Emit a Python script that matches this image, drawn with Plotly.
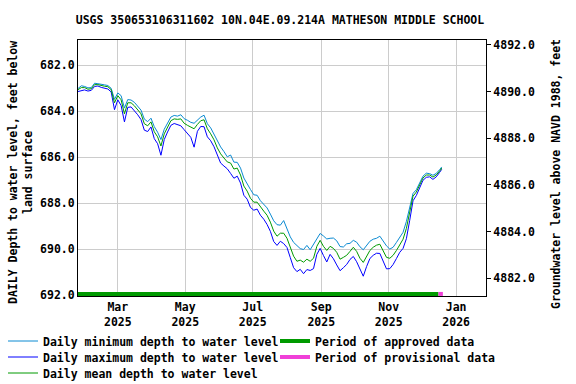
import pandas as pd
import plotly.graph_objects as go

# ---- data ----
dates = list(pd.date_range("2025-01-24", periods=110, freq="3D")) + [pd.Timestamp("2025-12-19")]

mean_depth = [
    683.07, 682.98, 682.98, 683.05, 683.03, 682.85, 682.85, 682.90, 682.92, 682.94,
    683.07, 683.64, 683.33, 683.51, 684.12, 683.64, 683.64, 683.77, 683.94, 684.12,
    684.55, 684.64, 684.47, 684.90, 685.12, 685.52, 684.99, 684.69, 684.42, 684.34,
    684.36, 684.34, 684.53, 684.62, 684.69, 684.77, 684.58, 684.42, 684.38, 684.77,
    684.99, 685.25, 685.60, 685.86, 686.04, 686.21, 686.26, 686.52, 686.48, 686.78,
    687.26, 687.48, 687.79, 687.96, 687.96, 688.18, 688.35, 688.53, 688.83, 689.22,
    689.44, 689.31, 689.31, 689.53, 689.92, 690.31, 690.53, 690.48, 690.57, 690.44,
    690.53, 690.40, 689.88, 689.62, 689.88, 690.06, 689.88, 689.97, 690.14, 690.44,
    690.36, 690.27, 690.10, 689.92, 690.10, 690.40, 690.58, 690.31, 690.06, 689.92,
    689.83, 689.79, 690.10, 690.36, 690.40, 690.27, 690.06, 689.79, 689.57, 689.10,
    688.35, 687.70, 687.52, 687.22, 686.91, 686.78, 686.78, 686.87, 686.78, 686.61,
    686.48,
]

min_depth = [
    683.02, 682.90, 682.93, 682.99, 682.98, 682.79, 682.81, 682.85, 682.86, 682.89,
    683.01, 683.49, 683.21, 683.33, 683.87, 683.50, 683.52, 683.62, 683.80, 683.96,
    684.35, 684.46, 684.31, 684.68, 684.92, 685.24, 684.79, 684.51, 684.26, 684.19,
    684.22, 684.16, 684.33, 684.40, 684.49, 684.53, 684.40, 684.26, 684.18, 684.55,
    684.73, 685.01, 685.30, 685.56, 685.76, 685.99, 685.91, 686.22, 686.23, 686.48,
    686.91, 687.18, 687.41, 687.64, 687.66, 687.90, 688.05, 688.21, 688.48, 688.77,
    688.94, 688.96, 688.76, 689.13, 689.47, 689.71, 689.83, 689.98, 690.02, 689.84,
    690.03, 689.80, 689.53, 689.32, 689.43, 689.56, 689.53, 689.52, 689.64, 689.89,
    689.91, 689.77, 689.75, 689.62, 689.70, 689.90, 690.03, 689.86, 689.66, 689.57,
    689.53, 689.44, 689.65, 689.86, 690.00, 689.92, 689.71, 689.49, 689.27, 688.80,
    688.20, 687.58, 687.42, 687.12, 686.83, 686.70, 686.72, 686.79, 686.71, 686.55,
    686.43,
]

max_depth = [
    683.15, 683.13, 683.08, 683.13, 683.10, 682.93, 682.91, 682.97, 683.00, 683.04,
    683.17, 683.94, 683.51, 683.76, 684.47, 683.84, 683.82, 683.97, 684.16, 684.37,
    684.83, 684.89, 684.69, 685.20, 685.42, 685.92, 685.24, 684.91, 684.62, 684.54,
    684.58, 684.64, 684.81, 684.97, 685.14, 685.57, 684.88, 684.67, 684.68, 685.12,
    685.29, 685.55, 685.95, 686.26, 686.39, 686.51, 686.71, 686.92, 686.83, 687.13,
    687.66, 687.83, 688.19, 688.31, 688.26, 688.53, 688.70, 688.93, 689.23, 689.67,
    689.84, 689.66, 689.76, 689.93, 690.37, 690.81, 690.98, 690.88, 691.07, 690.89,
    690.93, 690.85, 690.23, 689.97, 690.28, 690.56, 690.23, 690.42, 690.69, 690.94,
    690.81, 690.67, 690.45, 690.32, 690.55, 690.90, 691.18, 690.76, 690.41, 690.27,
    690.18, 690.19, 690.55, 690.86, 690.85, 690.67, 690.41, 690.14, 689.97, 689.55,
    688.75, 687.90, 687.67, 687.34, 687.01, 686.88, 686.86, 686.97, 686.86, 686.67,
    686.53,
]

approved_period = ["2025-01-24", "2025-12-16"]
provisional_period = ["2025-12-16", "2025-12-20"]
period_bar_depth = 691.95

x_tick_vals = ["2025-03-01", "2025-05-01", "2025-07-01", "2025-09-01", "2025-11-01", "2026-01-01"]
x_tick_text = ["Mar<br>2025", "May<br>2025", "Jul<br>2025", "Sep<br>2025", "Nov<br>2025", "Jan<br>2026"]
left_ticks = [682, 684, 686, 688, 690, 692]
right_ticks = [4882, 4884, 4886, 4888, 4890, 4892]

FONT = "DejaVu Sans Mono"
FS = 11.5
C_MIN = "#0a8ad2"
C_MAX = "#0000ff"
C_MEAN = "#009a00"
C_APP = "#009a00"
C_PROV = "#f040d8"

fig = go.Figure()
fig.add_trace(go.Scatter(x=dates, y=min_depth, mode="lines", name="<b>Daily minimum depth to water level</b>",
                         line=dict(color=C_MIN, width=1), legend="legend"))
fig.add_trace(go.Scatter(x=dates, y=max_depth, mode="lines", name="<b>Daily maximum depth to water level</b>",
                         line=dict(color=C_MAX, width=1), legend="legend2"))
fig.add_trace(go.Scatter(x=dates, y=mean_depth, mode="lines", name="<b>Daily mean depth to water level</b>",
                         line=dict(color=C_MEAN, width=1), legend="legend3"))
fig.add_trace(go.Scatter(x=approved_period, y=[period_bar_depth] * 2, mode="lines",
                         name="<b>Period of approved data</b>", line=dict(color=C_APP, width=4), legend="legend4"))
fig.add_trace(go.Scatter(x=provisional_period, y=[period_bar_depth] * 2, mode="lines",
                         name="<b>Period of provisional data</b>", line=dict(color=C_PROV, width=4), legend="legend5"))
# anchor for right axis
fig.add_trace(go.Scatter(x=[dates[0]], y=[4886], yaxis="y2", mode="markers", marker=dict(opacity=0),
                         showlegend=False, hoverinfo="skip"))


def leg(px_left, py_center):
    return dict(x=px_left / 576, y=1 - py_center / 384, xref="container", yref="container",
                xanchor="left", yanchor="middle", orientation="v",
                font=dict(family=FONT, size=FS), bgcolor="rgba(0,0,0,0)", borderwidth=0)


fig.update_layout(
    width=576, height=384,
    margin=dict(l=78, r=90, t=40, b=88, autoexpand=False),
    paper_bgcolor="white", plot_bgcolor="white",
    font=dict(family=FONT, size=FS, color="black"),
    title=dict(text="<b>USGS 350653106311602 10N.04E.09.214A MATHESON MIDDLE SCHOOL</b>",
               x=0.495, xref="paper", xanchor="center", y=1 - 20 / 384, yanchor="middle",
               font=dict(family=FONT, size=FS, color="black")),
    xaxis=dict(range=["2025-01-24", "2026-01-28"], tickvals=x_tick_vals,
               ticktext=[f"<b>{t}</b>" for t in x_tick_text],
               showgrid=True, gridcolor="#cccccc", gridwidth=1, ticks="", automargin=False,
               showline=True, linecolor="black", linewidth=1, mirror=True,
               tickfont=dict(family=FONT, size=FS), zeroline=False),
    yaxis=dict(range=[692.04, 680.91], tickvals=left_ticks, ticktext=[f"<b>{v:.1f}</b>" for v in left_ticks],
               showgrid=True, gridcolor="#cccccc", gridwidth=1, ticks="", automargin=False,
               showline=True, linecolor="black", linewidth=1, mirror=True,
               tickfont=dict(family=FONT, size=FS), zeroline=False),
    yaxis2=dict(range=[4881.24, 4892.21], tickvals=right_ticks, ticktext=[f"<b>{v:.1f}</b>" for v in right_ticks],
                overlaying="y", side="right", showgrid=False, ticks="outside", ticklen=4, automargin=False,
                tickcolor="black", showline=True, linecolor="black",
                tickfont=dict(family=FONT, size=FS), zeroline=False),
    legend=leg(3, 341),
    legend2=leg(3, 357),
    legend3=leg(3, 373),
    legend4=leg(275, 341),
    legend5=leg(275, 357),
    showlegend=True,
    annotations=[
        dict(text="<b>DAILY Depth to water level, feet below<br>land surface</b>", textangle=-90,
             xref="paper", yref="paper", x=(20 - 78) / 408, y=(296 - 173) / 256,
             xanchor="center", yanchor="middle", showarrow=False, font=dict(family=FONT, size=FS)),
        dict(text="<b>Groundwater level above NAVD 1988, feet</b>", textangle=-90,
             xref="paper", yref="paper", x=(556 - 78) / 408, y=(296 - 174) / 256,
             xanchor="center", yanchor="middle", showarrow=False, font=dict(family=FONT, size=FS)),
    ],
)

fig.write_html("out.html", config={"displayModeBar": False},
               post_script="document.body.style.margin='0';document.body.style.overflow='hidden';")
